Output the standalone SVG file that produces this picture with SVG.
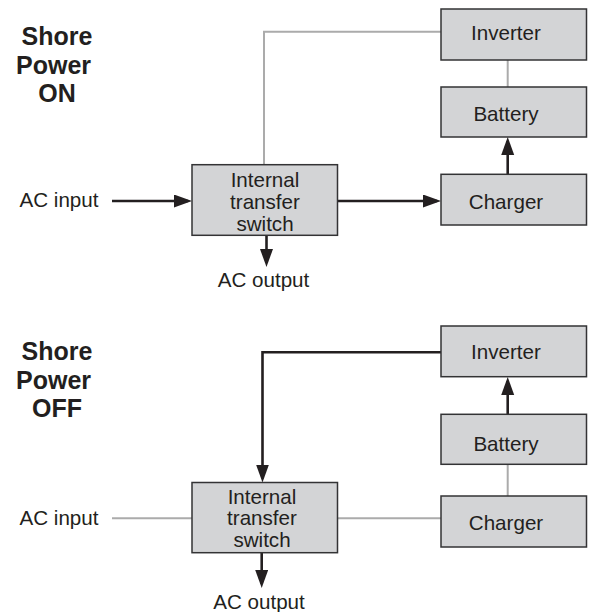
<svg xmlns="http://www.w3.org/2000/svg" width="590" height="612" viewBox="0 0 590 612">
<style>
.box{fill:#d3d4d6;stroke:#333335;stroke-width:1.5}
.t{font-family:"Liberation Sans",Arial,Helvetica,sans-serif;font-size:20.6px;fill:#231f20;text-anchor:middle}
.h{font-family:"Liberation Sans",Arial,Helvetica,sans-serif;font-size:25px;font-weight:bold;fill:#231f20;text-anchor:middle}
.blk{fill:none;stroke:#231f20;stroke-width:2.6}
.gry{fill:none;stroke:#ababab;stroke-width:2}
</style>
<defs>
<marker id="ah" markerUnits="userSpaceOnUse" markerWidth="20" markerHeight="14" refX="14" refY="6.5" orient="auto" viewBox="0 0 20 14">
<path d="M0,0 L18,6.5 L0,13 Z" fill="#231f20"/>
</marker>
</defs>
<rect width="590" height="612" fill="#ffffff"/>

<g id="title-on">
<text class="h" x="57" y="45">Shore</text>
<text class="h" x="53.5" y="74">Power</text>
<text class="h" x="57" y="102">ON</text>
</g>
<g id="title-off">
<text class="h" x="57" y="360">Shore</text>
<text class="h" x="53.5" y="389">Power</text>
<text class="h" x="57" y="417">OFF</text>
</g>

<g id="connectors">
<path class="gry" d="M264,164.7 V31.7 H441"/>
<path class="gry" d="M507.7,60 V87"/>
<path class="blk" d="M112,201 H188" marker-end="url(#ah)"/>
<path class="blk" d="M337.5,201 H437" marker-end="url(#ah)"/>
<path class="blk" d="M507.7,174.3 V141" marker-end="url(#ah)"/>
<path class="blk" d="M266.5,235.3 V263" marker-end="url(#ah)"/>

<path class="gry" d="M112,518.3 H192"/>
<path class="gry" d="M337.7,518.3 H441"/>
<path class="gry" d="M507.7,464.3 V496"/>
<path class="blk" d="M441,352.3 H262.5 V478.5" marker-end="url(#ah)"/>
<path class="blk" d="M507.7,414.3 V381" marker-end="url(#ah)"/>
<path class="blk" d="M261.7,552.7 V584" marker-end="url(#ah)"/>
</g>

<g id="on-ac-input"><text class="t" x="59" y="207">AC input</text></g>
<g id="on-ac-output"><text class="t" x="263.5" y="286.5">AC output</text></g>
<g id="on-switch">
<rect class="box" x="192" y="164.7" width="145.5" height="70.6"/>
<text class="t" x="265" y="186.5">Internal</text>
<text class="t" x="265" y="208.5">transfer</text>
<text class="t" x="265" y="230.5">switch</text>
</g>
<g id="on-inverter">
<rect class="box" x="441" y="9" width="145.5" height="51"/>
<text class="t" x="506" y="40">Inverter</text>
</g>
<g id="on-battery">
<rect class="box" x="441" y="87" width="145.5" height="50"/>
<text class="t" x="506" y="121">Battery</text>
</g>
<g id="on-charger">
<rect class="box" x="441" y="174.3" width="145.5" height="50.7"/>
<text class="t" x="506" y="209">Charger</text>
</g>

<g id="off-ac-input"><text class="t" x="59" y="524.5">AC input</text></g>
<g id="off-ac-output"><text class="t" x="259" y="609">AC output</text></g>
<g id="off-switch">
<rect class="box" x="192" y="482.5" width="145.5" height="70.2"/>
<text class="t" x="262" y="503.5">Internal</text>
<text class="t" x="262" y="525.3">transfer</text>
<text class="t" x="262" y="547">switch</text>
</g>
<g id="off-inverter">
<rect class="box" x="441" y="326" width="145.5" height="50.7"/>
<text class="t" x="506" y="359">Inverter</text>
</g>
<g id="off-battery">
<rect class="box" x="441" y="414.3" width="145.5" height="50"/>
<text class="t" x="506" y="450.5">Battery</text>
</g>
<g id="off-charger">
<rect class="box" x="441" y="496" width="145.5" height="51"/>
<text class="t" x="506" y="530">Charger</text>
</g>
</svg>
